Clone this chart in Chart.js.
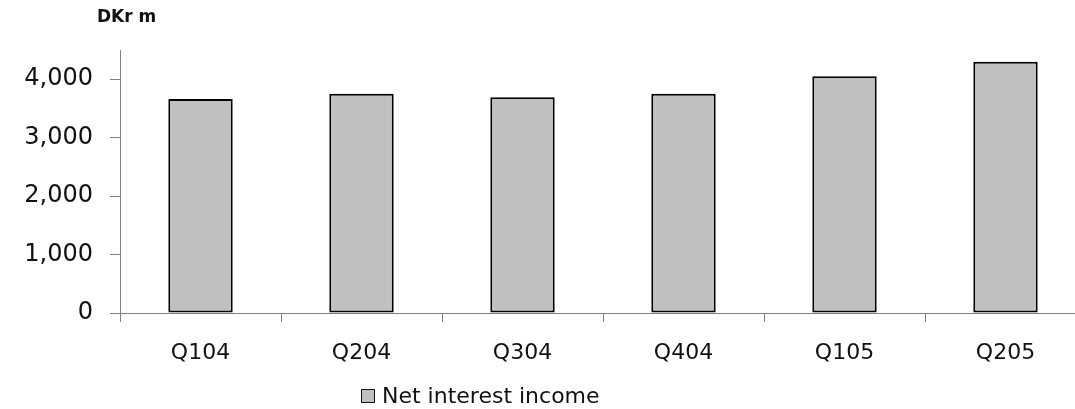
<!DOCTYPE html>
<html>
<head>
<meta charset="utf-8">
<script src="https://cdn.jsdelivr.net/npm/chart.js@4/dist/chart.umd.min.js"></script>
<style>
  html, body { margin: 0; padding: 0; background: #fff; overflow: hidden; }
  #wrap { position: relative; width: 1090px; height: 409px; }
  #unit { position: absolute; left: 97px; top: 6px; font: bold 17px "DejaVu Sans", sans-serif; color: #111; }
  #legend { position: absolute; left: 361px; top: 383px; font: 22px "DejaVu Sans", sans-serif; color: #111; display: flex; align-items: center; white-space: nowrap; }
  #legend .box { width: 12px; height: 12px; border: 1.5px solid #111; margin-right: 7px; }
</style>
</head>
<body>
<div id="wrap">
  <canvas id="chart" width="1090" height="409"></canvas>
  <div id="unit">DKr m</div>
  <div id="legend"></div>
</div>
<script>
// Quarterly net interest income, DKr m
const categories = ['Q104', 'Q204', 'Q304', 'Q404', 'Q105', 'Q205'];
const netInterestIncome = [3660, 3750, 3690, 3750, 4050, 4300];
const seriesLabel = 'Net interest income';
const yTickValues = [0, 1000, 2000, 3000, 4000];

const axisGrey = '#7f7f7f';
const family = '"DejaVu Sans", sans-serif';

const chart = new Chart(document.getElementById('chart'), {
  type: 'bar',
  data: {
    labels: categories,
    datasets: [{
      label: seriesLabel,
      data: netInterestIncome,
      backgroundColor: '#c0c0c0',
      borderColor: '#000',
      borderWidth: 2,
      borderSkipped: false,
      categoryPercentage: 1,
      barPercentage: 0.4
    }]
  },
  options: {
    responsive: false,
    animation: false,
    layout: { padding: { top: 50, left: 0, right: 4, bottom: 46 } },
    plugins: { legend: { display: false }, tooltip: { enabled: false } },
    scales: {
      x: {
        grid: { drawOnChartArea: false, drawTicks: true, tickLength: 9, color: axisGrey, offset: true },
        border: { display: true, color: axisGrey, width: 1 },
        ticks: { color: '#111', font: { family, size: 22 }, padding: 18, maxRotation: 0 },
        afterFit: s => { s.height = 50; }
      },
      y: {
        min: 0,
        max: 4500,
        afterBuildTicks: s => { s.ticks = yTickValues.map(v => ({ value: v })); },
        grid: { drawOnChartArea: false, drawTicks: true, tickLength: 10, color: axisGrey },
        border: { display: true, color: axisGrey, width: 1 },
        ticks: {
          color: '#111',
          font: { family, size: 24 },
          padding: 17,
          callback: v => v.toLocaleString('en-US')
        },
        afterFit: s => { s.width = 120; }
      }
    }
  }
});

// Legend built from the dataset
const ds = chart.data.datasets[0];
const legend = document.getElementById('legend');
const box = document.createElement('span');
box.className = 'box';
box.style.background = ds.backgroundColor;
const txt = document.createElement('span');
txt.textContent = ds.label;
legend.appendChild(box);
legend.appendChild(txt);
</script>
</body>
</html>
